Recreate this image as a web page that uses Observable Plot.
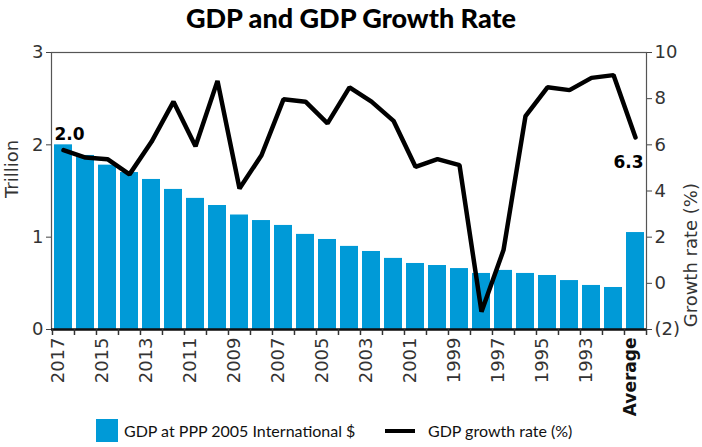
<!DOCTYPE html>
<html><head><meta charset="utf-8">
<script src="https://cdn.jsdelivr.net/npm/d3@7"></script>
<script src="https://cdn.jsdelivr.net/npm/@observablehq/plot@0.6"></script>
<style>
body{margin:0;background:#fff;width:702px;height:447px;overflow:hidden;font-family:"DejaVu Sans",sans-serif;}
#title{height:40px;line-height:36px;text-align:center;font-family:Lato,sans-serif;font-weight:900;font-size:27px;color:#000;}
#legend{position:absolute;left:0;top:418px;width:702px;height:26px;font-family:Lato,sans-serif;font-size:16px;color:#111;}
.sw{position:absolute;}
</style></head>
<body>
<div id="title">GDP and GDP Growth Rate</div>
<div id="chart"></div>
<div id="legend">
  <div class="sw" style="left:96px;top:1px;width:22px;height:23px;background:#009ad7"></div>
  <div class="sw" style="left:124px;top:0px;line-height:26px">GDP at PPP 2005 International $</div>
  <div class="sw" style="left:385px;top:11px;width:30px;height:4px;background:#000"></div>
  <div class="sw" style="left:428px;top:0px;line-height:26px">GDP growth rate (%)</div>
</div>
<script>
const years = ["2017","2016","2015","2014","2013","2012","2011","2010","2009","2008","2007","2006","2005","2004","2003","2002","2001","2000","1999","1998","1997","1996","1995","1994","1993","1992","Average"];
const gdp = [2.0,1.885,1.78,1.70,1.625,1.517,1.42,1.343,1.24,1.18,1.127,1.03,0.975,0.90,0.845,0.77,0.715,0.693,0.66,0.607,0.64,0.607,0.585,0.53,0.477,0.455,1.05];
const growth = [5.77,5.45,5.38,4.72,6.13,7.87,5.94,8.77,4.11,5.55,7.97,7.87,6.93,8.49,7.87,7.04,5.05,5.38,5.12,-1.23,1.44,7.24,8.49,8.37,8.9,9.02,6.32];
const xLabels = ["2017","2015","2013","2011","2009","2007","2005","2003","2001","1999","1997","1995","1993"];
const leftTicks = [0,1,2,3];
const rightTicks = [-2,0,2,4,6,8,10];

const data = years.map((y,i)=>({year:y, gdp:gdp[i], growth:growth[i]}));
const toLeft = v => (v+2)/4;   // growth (-2..10) onto trillion scale (0..3)
const axisCol = "#333";

const chart = Plot.plot({
  width:702, height:374,
  marginLeft:51, marginRight:56, marginTop:12, marginBottom:85,
  style:{fontFamily:"DejaVu Sans, sans-serif", fontSize:"18px", color:axisCol, overflow:"visible"},
  x:{domain:years, type:"band", paddingInner:0.2, paddingOuter:0.1, axis:null},
  y:{domain:[0,3], axis:null},
  marks:[
    Plot.barY(data,{x:"year", y:"gdp", fill:"#009ad7"}),
    Plot.frame({stroke:"#555", strokeWidth:1.2}),
    Plot.ruleY([0],{stroke:"#111", strokeWidth:2.5}),
    // x ticks at band boundaries
    Plot.ruleX(years,{x:d=>d, y1:0, y2:0, dx:-11.02, stroke:"#333", strokeWidth:1.5, insetBottom:-6}),
    Plot.ruleX(["Average"],{x:d=>d, y1:0, y2:0, dx:11.02, stroke:"#333", strokeWidth:1.5, insetBottom:-6}),
    Plot.text(xLabels,{x:d=>d, frameAnchor:"bottom", dy:8, rotate:-90, textAnchor:"end", text:d=>d, fontSize:18, fill:axisCol}),
    Plot.text(["Average"],{x:d=>d, frameAnchor:"bottom", dy:8, rotate:-90, textAnchor:"end", text:d=>d, fontSize:17, fontWeight:"bold", fill:"#111"}),
    Plot.axisY(leftTicks,{anchor:"left", tickSize:5, tickPadding:3, fontSize:18, stroke:"#444", label:null, tickFormat:d=>`${d}`}),
    Plot.axisY(rightTicks.map(toLeft),{anchor:"right", tickSize:5, tickPadding:3, fontSize:18, stroke:"#444", label:null,
      tickFormat:d=>{const v=Math.round(d*4-2); return v<0?`(${-v})`:`${v}`;}}),
    Plot.text(["Trillion"],{frameAnchor:"left", dx:-39, dy:7, rotate:-90, text:d=>d, fontSize:18, fill:axisCol}),
    Plot.text(["Growth rate (%)"],{frameAnchor:"right", dx:45, dy:-8, rotate:-90, text:d=>d, fontSize:18, fill:axisCol}),
    Plot.lineY(data,{x:"year", y:d=>toLeft(d.growth), stroke:"#000", strokeWidth:4.5, strokeLinejoin:"miter"}),
    Plot.text([data[0]],{x:"year", y:"gdp", text:d=>d.gdp.toFixed(1), textAnchor:"start", dx:-9, dy:-10, fontSize:17, fontWeight:"bold", fill:"#000"}),
    Plot.text([data[data.length-1]],{x:"year", y:d=>toLeft(d.growth), text:d=>d.growth.toFixed(1), textAnchor:"end", dx:8, dy:25, fontSize:17, fontWeight:"bold", fill:"#000"})
  ]
});
document.getElementById("chart").appendChild(chart);
</script>
</body></html>
